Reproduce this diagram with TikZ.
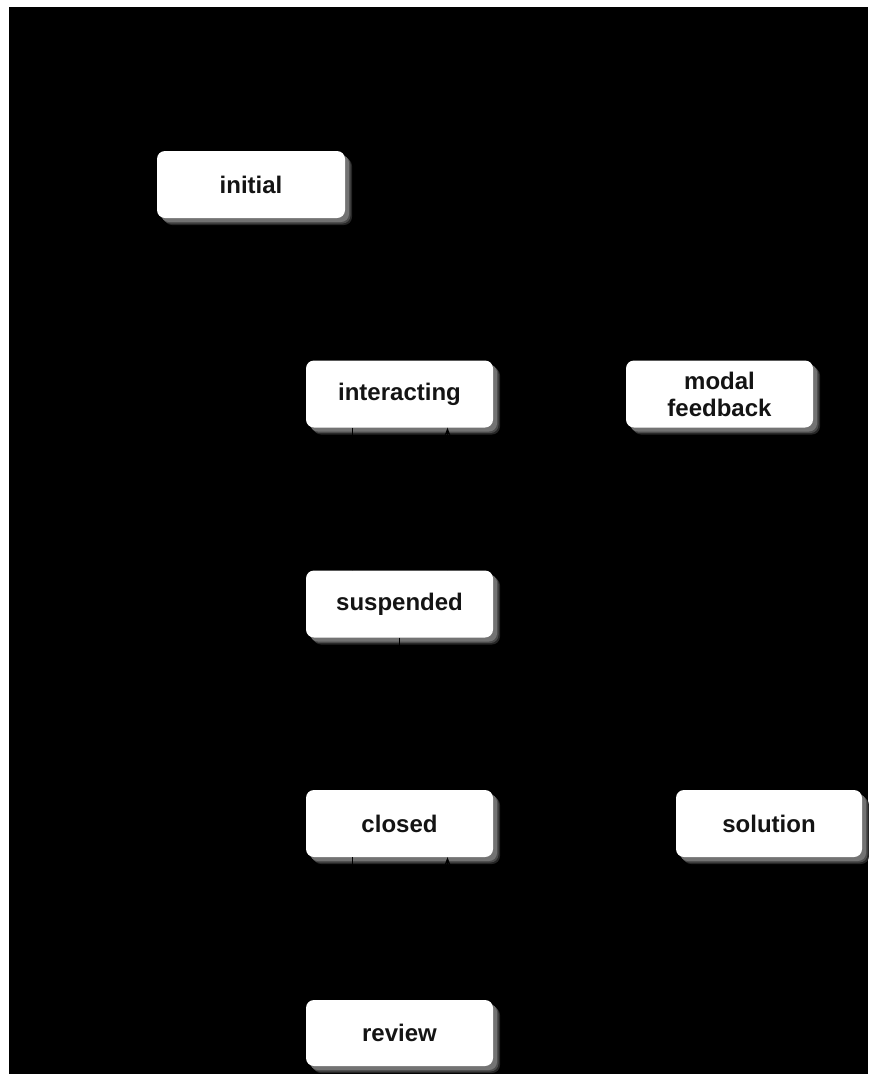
\documentclass[tikz,border=0pt]{standalone}
\usepackage{fontspec}
\setmainfont{Liberation Sans}
\usetikzlibrary{arrows.meta}
\begin{document}
\begin{tikzpicture}[x=1pt,y=-1pt,
  statebox/.style={
    preaction={fill=black!85!white, rounded corners=9pt, transform canvas={shift={(7pt,-7pt)}}},
    preaction={fill=black!70!white, rounded corners=9pt, transform canvas={shift={(5.5pt,-5.5pt)}}},
    preaction={fill=black!55!white, rounded corners=9pt, transform canvas={shift={(4pt,-4pt)}}},
    fill=white, draw=none, rounded corners=8pt,
    minimum width=187pt, minimum height=67pt, inner sep=0pt,
    align=center, text=black!92,
    font=\fontsize{24}{27}\selectfont\bfseries},
  link/.style={draw=black, line width=1pt, -{Stealth[length=8pt]}}
]
\useasboundingbox (0,0) rectangle (868,1074);
\fill[white] (0,0) rectangle (868,1074);
\fill[black] (9,7) rectangle (868,1074);

\node[statebox, minimum width=188pt] (initial) at (251,184.5) {initial};
\node[statebox] (interacting) at (399.5,394) {interacting};
\node[statebox] (modal) at (719.5,394) {modal\\feedback};
\node[statebox] (suspended) at (399.5,604) {suspended};
\node[statebox] (closed) at (399.5,823.5) {closed};
\node[statebox, minimum width=186pt] (solution) at (769,823.5) {solution};
\node[statebox, minimum height=66pt] (review) at (399.5,1033) {review};

\draw[link] ([xshift=-47pt]interacting.south) -- ([xshift=-47pt]suspended.north);
\draw[link] ([xshift=48pt]suspended.north) -- ([xshift=48pt]interacting.south);
\draw[link] (suspended.south) -- (closed.north);
\draw[link] ([xshift=-47pt]closed.south) -- ([xshift=-47pt]review.north);
\draw[link] ([xshift=48pt]review.north) -- ([xshift=48pt]closed.south);
\end{tikzpicture}
\end{document}
